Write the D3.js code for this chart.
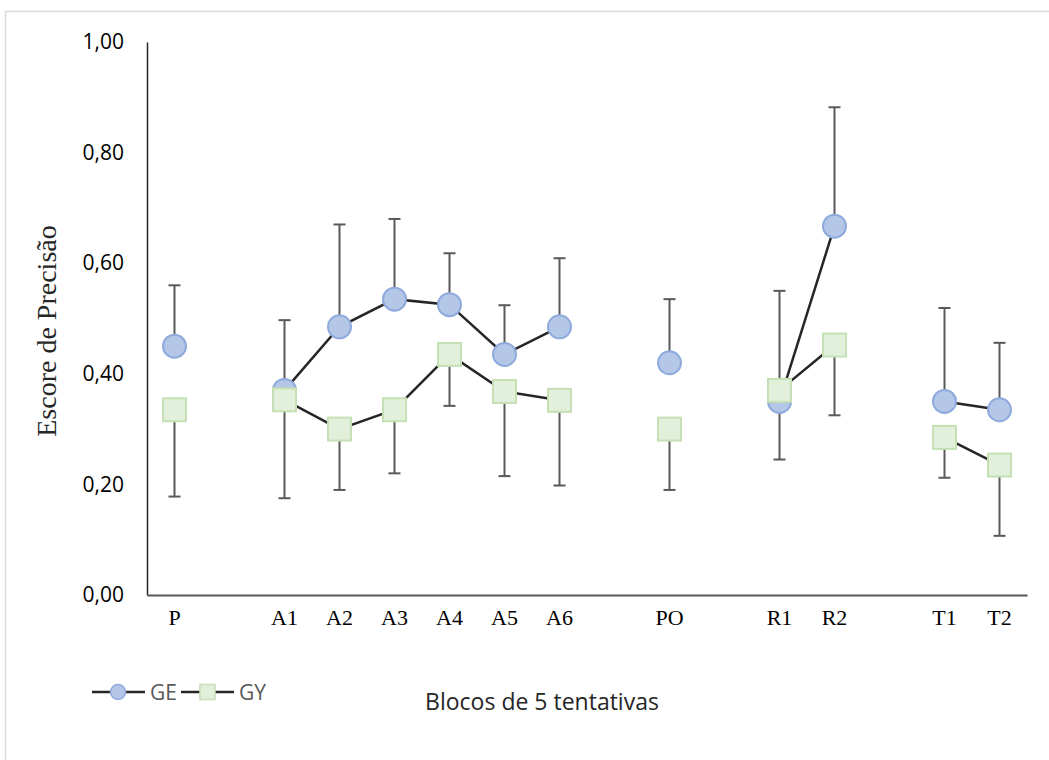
<!DOCTYPE html>
<html>
<head>
<meta charset="utf-8">
<script src="https://cdnjs.cloudflare.com/ajax/libs/d3/7.8.5/d3.min.js"></script>
<style>
  body { margin: 0; background: #fff; }
  svg { display: block; }
</style>
</head>
<body>
<div id="chart"></div>
<script>
// blocks of 5 trials (blank slots separate the phases)
var categories = ["P", "", "A1", "A2", "A3", "A4", "A5", "A6", "", "PO", "", "R1", "R2", "", "T1", "T2"];

// mean accuracy score
var ge = [0.45, null, 0.37, 0.485, 0.535, 0.525, 0.435, 0.485, null, 0.42, null, 0.35, 0.667, null, 0.35, 0.335];
var gy = [0.335, null, 0.353, 0.30, 0.335, 0.435, 0.368, 0.352, null, 0.30, null, 0.37, 0.452, null, 0.285, 0.235];

// error bars: GE shown upwards, GY downwards
var geErr = [0.11, null, 0.127, 0.185, 0.145, 0.093, 0.089, 0.124, null, 0.115, null, 0.20, 0.215, null, 0.169, 0.121];
var gyErr = [0.157, null, 0.178, 0.11, 0.115, 0.093, 0.153, 0.154, null, 0.11, null, 0.125, 0.127, null, 0.073, 0.128];

var yTicks = [0, 0.2, 0.4, 0.6, 0.8, 1.0];

var W = 1049, H = 760;
var margin = {top: 42, left: 147, bottom: 165, right: 22};

var svg = d3.select("#chart")
  .append("svg")
    .attr("width", W)
    .attr("height", H);

// chart frame
svg.append("rect")
  .attr("x", 5.5).attr("y", 11.5)
  .attr("width", 1200).attr("height", 900)
  .attr("fill", "none")
  .attr("stroke", "#d9d9d9")
  .attr("stroke-width", 1.5);

var x = d3.scaleBand()
  .domain(d3.range(categories.length))
  .range([margin.left, W - margin.right]);

var y = d3.scaleLinear()
  .domain([0, 1])
  .range([H - margin.bottom, margin.top]);

var cx = function(i) { return x(i) + x.bandwidth() / 2; };
var fmt = function(v) { return d3.format(".2f")(v).replace(".", ","); };

// y axis
var yAxis = svg.append("g")
  .attr("transform", "translate(" + margin.left + ",0)")
  .call(d3.axisLeft(y).tickValues(yTicks).tickFormat(fmt).tickSize(0).tickPadding(23));
yAxis.select(".domain").attr("stroke", "#262626").attr("stroke-width", 1.5);
yAxis.selectAll("text")
  .attr("font-family", "'Open Sans', sans-serif")
  .attr("font-size", 21)
  .attr("fill", "#000");

// x axis
var xAxis = svg.append("g")
  .attr("transform", "translate(0," + y(0) + ")")
  .call(d3.axisBottom(x).tickFormat(function(i) { return categories[i]; }).tickSize(0).tickPadding(14));
xAxis.select(".domain").attr("stroke", "#595959").attr("stroke-width", 2);
xAxis.selectAll("text")
  .attr("font-family", "'Liberation Serif', 'Times New Roman', serif")
  .attr("font-size", 22)
  .attr("fill", "#000");

// axis titles
svg.append("text")
  .attr("transform", "translate(56," + 331 + ") rotate(-90)")
  .attr("text-anchor", "middle")
  .attr("font-family", "'Liberation Serif', 'Times New Roman', serif")
  .attr("font-size", 28)
  .attr("fill", "#262626")
  .text("Escore de Precisão");

svg.append("text")
  .attr("x", 542).attr("y", 710)
  .attr("text-anchor", "middle")
  .attr("font-family", "'Open Sans', sans-serif")
  .attr("font-size", 23)
  .attr("fill", "#262626")
  .text("Blocos de 5 tentativas");

// error bars
var idx = d3.range(categories.length);
function errBars(vals, errs, dir) {
  var g = svg.append("g").attr("stroke", "#595959").attr("stroke-width", 2);
  idx.filter(function(i) { return vals[i] != null; }).forEach(function(i) {
    var end = vals[i] + dir * errs[i];
    g.append("line")
      .attr("x1", cx(i)).attr("x2", cx(i))
      .attr("y1", y(vals[i])).attr("y2", y(end));
    g.append("line")
      .attr("x1", cx(i) - 6).attr("x2", cx(i) + 6)
      .attr("y1", y(end)).attr("y2", y(end));
  });
}
errBars(ge, geErr, 1);
errBars(gy, gyErr, -1);

function series(vals, shape) {
  var l = d3.line()
    .defined(function(i) { return vals[i] != null; })
    .x(function(i) { return cx(i); })
    .y(function(i) { return y(vals[i]); });
  svg.append("path")
    .attr("d", l(idx))
    .attr("fill", "none")
    .attr("stroke", "#262626")
    .attr("stroke-width", 2.5);
  var pts = idx.filter(function(i) { return vals[i] != null; });
  if (shape === "circle") {
    svg.selectAll(null).data(pts).enter().append("circle")
      .attr("cx", cx).attr("cy", function(i) { return y(vals[i]); })
      .attr("r", 11.5)
      .attr("fill", "#b4c7e7")
      .attr("stroke", "#8faadc")
      .attr("stroke-width", 2);
  } else {
    svg.selectAll(null).data(pts).enter().append("rect")
      .attr("x", function(i) { return cx(i) - 11.5; })
      .attr("y", function(i) { return y(vals[i]) - 11.5; })
      .attr("width", 23).attr("height", 23)
      .attr("fill", "#e2efda")
      .attr("stroke", "#c5e0b4")
      .attr("stroke-width", 2);
  }
}
series(ge, "circle");
series(gy, "square");

// legend
var legend = [
  {name: "GE", shape: "circle", x: 92},
  {name: "GY", shape: "square", x: 181}
];
var ly = 692;
legend.forEach(function(d) {
  var g = svg.append("g");
  g.append("line")
    .attr("x1", d.x).attr("x2", d.x + 53)
    .attr("y1", ly).attr("y2", ly)
    .attr("stroke", "#262626").attr("stroke-width", 2.5);
  if (d.shape === "circle") {
    g.append("circle").attr("cx", d.x + 26).attr("cy", ly).attr("r", 7.5)
      .attr("fill", "#b4c7e7").attr("stroke", "#8faadc").attr("stroke-width", 1.5);
  } else {
    g.append("rect").attr("x", d.x + 19).attr("y", ly - 7.5).attr("width", 15).attr("height", 15)
      .attr("fill", "#e2efda").attr("stroke", "#c5e0b4").attr("stroke-width", 1.5);
  }
  g.append("text")
    .attr("x", d.x + 58).attr("y", ly + 8)
    .attr("font-family", "'Open Sans', sans-serif")
    .attr("font-size", 21)
    .attr("fill", "#595959")
    .text(d.name);
});
</script>
</body>
</html>
